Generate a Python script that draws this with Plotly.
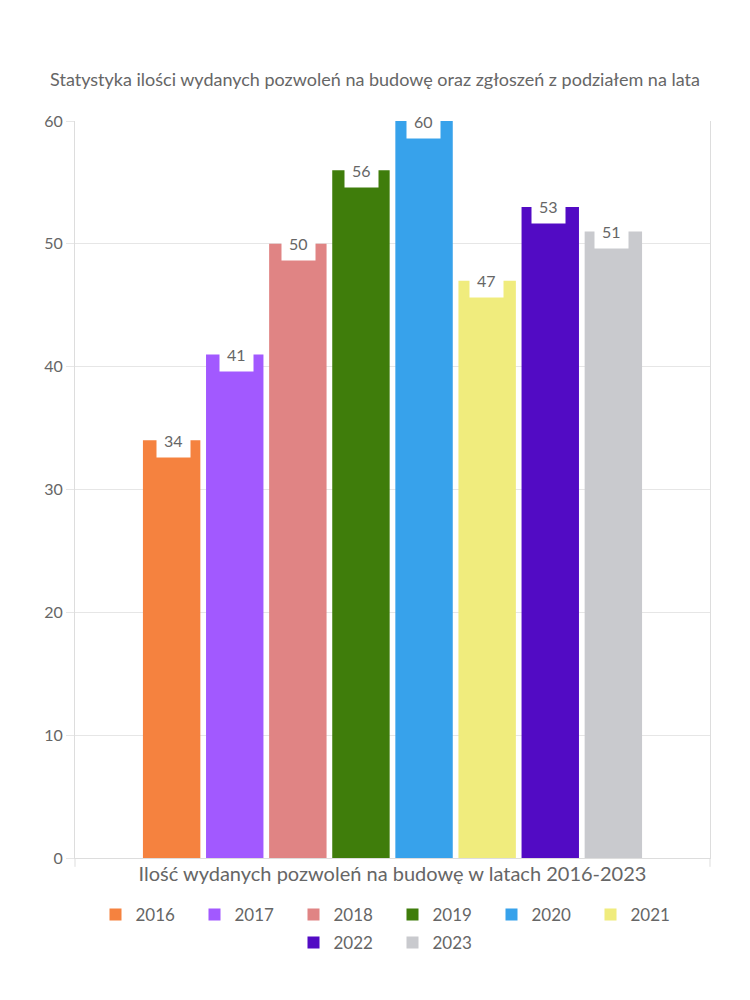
import plotly.graph_objects as go

years = ["2016", "2017", "2018", "2019", "2020", "2021", "2022", "2023"]
values = [34, 41, 50, 56, 60, 47, 53, 51]
colors = ["#F5823F", "#A259FF", "#E08484", "#3F7D0B", "#37A2EB", "#F0EC7D", "#520BC4", "#C9CACE"]
category = ["Ilość wydanych pozwoleń na budowę w latach 2016-2023"]

FONT = "Lato, 'Open Sans', sans-serif"
GRAY = "#666666"

fig = go.Figure()
for i, (y, v, c) in enumerate(zip(years, values, colors)):
    fig.add_trace(go.Bar(
        x=category, y=[v], name=y, marker=dict(color=c, line=dict(width=0)),
        legend="legend" if i < 6 else "legend2",
    ))

annotations = []
for i, (y, v) in enumerate(zip(years, values)):
    annotations.append(dict(
        x=category[0], y=v, xref="x", yref="y", text=str(v), showarrow=False,
        xshift=(i - 3.5) * 62.5, yanchor="middle", bgcolor="white",
        borderpad=7, font=dict(family=FONT, size=16, color=GRAY),
    ))

legend_common = dict(orientation="h", x=0.5, xanchor="center", yanchor="top",
                     font=dict(family=FONT, size=17, color=GRAY), itemwidth=30,
                     entrywidth=54, traceorder="normal", bgcolor="rgba(0,0,0,0)")

fig.update_layout(
    width=750, height=1000,
    paper_bgcolor="white", plot_bgcolor="white",
    margin=dict(l=75, r=40, t=121, b=142),
    title=dict(text="Statystyka ilości wydanych pozwoleń na budowę oraz zgłoszeń z podziałem na lata",
               x=0.5, xanchor="center", y=0.92, yanchor="middle",
               font=dict(family=FONT, size=18, color=GRAY)),
    barmode="group", bargap=0.205, bargroupgap=0.09,
    font=dict(family=FONT, color=GRAY),
    annotations=annotations,
    legend=dict(**legend_common, y=-0.053),
    legend2=dict(**legend_common, y=-0.091),
    xaxis=dict(showticklabels=False, showline=True, linecolor="#dddddd", showgrid=False,
               title=dict(text=category[0], font=dict(family=FONT, size=20, color=GRAY), standoff=8)),
    yaxis=dict(range=[0, 60], dtick=10, gridcolor="#e6e6e6", showline=True, linecolor="#dddddd",
               mirror=True, ticks="outside", ticklen=8, tickcolor="#e6e6e6",
               tickfont=dict(family=FONT, size=16, color=GRAY), zeroline=False),
)
fig.add_shape(type="line", xref="paper", yref="paper", x0=0, x1=0, y0=0, y1=-0.012,
              line=dict(color="#dddddd", width=1))
fig.add_shape(type="line", xref="paper", yref="paper", x0=1, x1=1, y0=0, y1=-0.012,
              line=dict(color="#dddddd", width=1))
fig.write_html("out.html")
